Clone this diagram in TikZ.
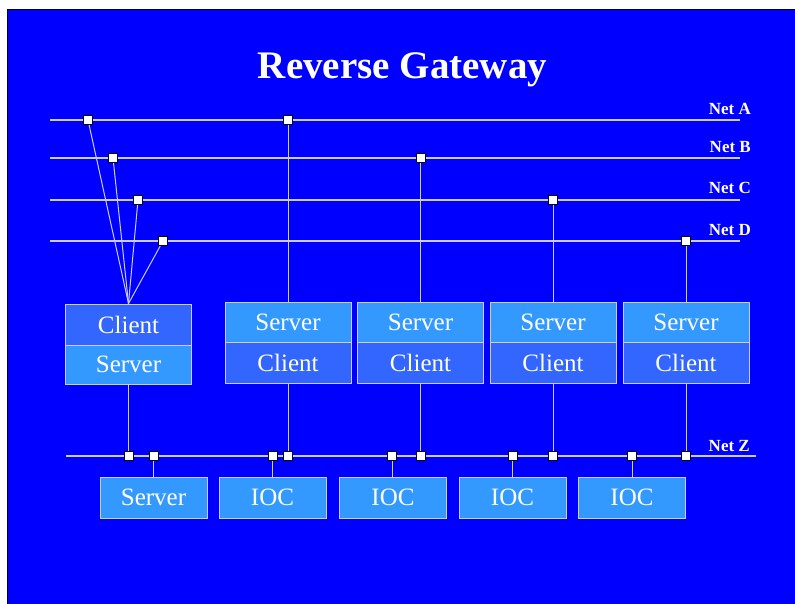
\documentclass[tikz,border=0pt]{standalone}
\usepackage{fontspec}
\setmainfont{Liberation Serif}
\definecolor{bgblue}{HTML}{0000FF}
\definecolor{lightbox}{HTML}{3399FF}
\definecolor{darkbox}{HTML}{3366FF}
\definecolor{wire}{HTML}{CCCCFF}
\begin{document}
\begin{tikzpicture}[x=1pt,y=-1pt,
  wireline/.style={draw=wire,line width=1.2pt},
  conn/.style={draw=wire,line width=1pt},
  sq/.style={draw=black,fill=white,minimum size=9pt,inner sep=0pt,line width=1pt},
  half/.style={draw=wire,line width=1pt,minimum width=126pt,minimum height=40pt,inner sep=0pt,text=white,font=\fontsize{25}{25}\selectfont},
  lt/.style={half,fill=lightbox},
  dk/.style={half,fill=darkbox},
  ioc/.style={lt,minimum width=107pt,minimum height=41pt},
  netlabel/.style={text=white,font=\bfseries\fontsize{17}{17}\selectfont,inner sep=0pt,anchor=base east}]
\useasboundingbox (0,0) rectangle (795,604);
\fill[white] (0,0) rectangle (795,604);
\fill[bgblue] (7,10) rectangle (795,604);
\draw[black,line width=1pt] (7,604) -- (7,10) -- (795,10);

\node[text=white,font=\bfseries\fontsize{39}{39}\selectfont,inner sep=0pt,anchor=base] (title) at (402.5,79) {Reverse Gateway};

% net lines
\coordinate (nAl) at (50,120);  \coordinate (nAr) at (740,120);
\coordinate (nBl) at (50,158);  \coordinate (nBr) at (740,158);
\coordinate (nCl) at (50,200);  \coordinate (nCr) at (740,200);
\coordinate (nDl) at (50,241);  \coordinate (nDr) at (740,241);
\coordinate (nZl) at (66,456);  \coordinate (nZr) at (756,456);
\draw[wireline] (nAl) -- (nAr);
\draw[wireline] (nBl) -- (nBr);
\draw[wireline] (nCl) -- (nCr);
\draw[wireline] (nDl) -- (nDr);
\draw[wireline] (nZl) -- (nZr);
\node[netlabel] (lA) at (751,115) {Net A};
\node[netlabel] (lB) at (751,153) {Net B};
\node[netlabel] (lC) at (751,194) {Net C};
\node[netlabel] (lD) at (751,235.5) {Net D};
\node[netlabel] (lZ) at (750,451) {Net Z};

% boxes
\node[dk,minimum height=41pt] (c1t) at (128.5,324.5) {Client};
\node[lt,minimum height=39pt] (c1b) at (128.5,364.5) {Server};
\foreach \n/\x in {2/288,3/420.5,4/553,5/686}{
  \node[lt,minimum height=40pt] (s\n) at (\x,322.5) {Server};
  \node[dk,minimum height=41pt] (k\n) at (\x,362.5) {Client};
}
\node[ioc] (bs) at (153.5,497.5) {Server};
\node[ioc] (i1) at (272.5,497.5) {IOC};
\node[ioc] (i2) at (393,497.5) {IOC};
\node[ioc] (i3) at (512.5,497.5) {IOC};
\node[ioc] (i4) at (632,497.5) {IOC};

% squares on nets
\node[sq] (qa1) at (88,120) {};
\node[sq] (qb1) at (113,158) {};
\node[sq] (qc1) at (138,200) {};
\node[sq] (qd1) at (163,241) {};
\node[sq] (qa2) at (288,120) {};
\node[sq] (qb3) at (420.5,158) {};
\node[sq] (qc4) at (553,200) {};
\node[sq] (qd5) at (686,241) {};
\node[sq] (z1) at (128.5,456) {};
\node[sq] (zs) at (153.5,456) {};
\node[sq] (zi1) at (272.5,456) {};
\node[sq] (z2) at (288,456) {};
\node[sq] (zi2) at (392,456) {};
\node[sq] (z3) at (420.5,456) {};
\node[sq] (zi3) at (512.5,456) {};
\node[sq] (z4) at (553,456) {};
\node[sq] (zi4) at (632,456) {};
\node[sq] (z5) at (686,456) {};

% connectors
\draw[conn] (qa1) -- (c1t.north);
\draw[conn] (qb1) -- (c1t.north);
\draw[conn] (qc1) -- (c1t.north);
\draw[conn] (qd1) -- (c1t.north);
\draw[conn] (c1b) -- (z1);
\draw[conn] (qa2) -- (s2);
\draw[conn] (qb3) -- (s3);
\draw[conn] (qc4) -- (s4);
\draw[conn] (qd5) -- (s5);
\draw[conn] (k2) -- (z2);
\draw[conn] (k3) -- (z3);
\draw[conn] (k4) -- (z4);
\draw[conn] (k5) -- (z5);
\draw[conn] (zs) -- (bs);
\draw[conn] (zi1) -- (i1);
\draw[conn] (zi2) -- (zi2 |- i2.north);
\draw[conn] (zi3) -- (i3);
\draw[conn] (zi4) -- (i4);
\end{tikzpicture}
\end{document}
